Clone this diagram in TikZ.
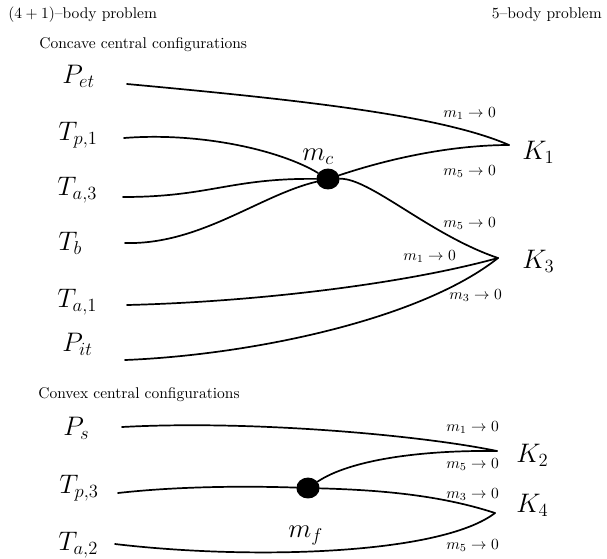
\documentclass[tikz,border=0pt]{standalone}
\usepackage{amsmath}
\usepackage{tikz}
\usetikzlibrary{shapes.geometric}

\begin{document}
\begin{tikzpicture}[
    x=0.645pt,
    y=-0.645pt,
    orbit/.style={black, line width=1.1pt, line cap=round},
    lab/.style={anchor=base west, inner sep=0pt, font=\LARGE},
    lim/.style={anchor=base west, inner sep=0pt, font=\normalsize},
    mass/.style={ellipse, fill=black, minimum width=15pt, minimum height=13.5pt, inner sep=0pt}
  ]
    \useasboundingbox (0,0) rectangle (607,558);
    % headings
    \node[lim] (h41) at (8,18) {$(4+1)$--body problem};
    \node[lim, anchor=base east] (h5) at (602,18) {$5$--body problem};
    \node[lim] (hcc) at (39,48) {Concave central configurations};
    \node[lim] (hcv) at (38,398) {Convex central configurations};
    % concave labels
    \node[lab] (Pet) at (62,83) {$P_{et}$};
    \node[lab] (Tp1) at (58,140) {$T_{p,1}$};
    \node[lab] (Ta3) at (57,195) {$T_{a,3}$};
    \node[lab] (Tb) at (58,250) {$T_b$};
    \node[lab] (Ta1) at (57,307) {$T_{a,1}$};
    \node[lab] (Pit) at (62,351) {$P_{it}$};
    \coordinate (pet) at (127,84);
    \coordinate (tp1) at (124,138);
    \coordinate (ta3) at (123,197);
    \coordinate (tb) at (125,243);
    \coordinate (ta1) at (127,305);
    \coordinate (pit) at (125,360);
    \coordinate (k1) at (509,145);
    \coordinate (k3) at (498,258);
    \node[mass] (mc) at (328,179) {};
    \node[lab] (mclab) at (302,160) {$m_c$};
    \node[lab] (K1) at (522,159) {$K_1$};
    \node[lab] (K3) at (522,268) {$K_3$};
    \draw[orbit] (pet) .. controls (300,100) and (440,115) .. (k1);
    \draw[orbit] (tp1) .. controls (200,132) and (280,150) .. (mc);
    \draw[orbit] (ta3) .. controls (210,197) and (230,178) .. (mc);
    \draw[orbit] (tb) .. controls (200,245) and (260,195) .. (mc);
    \draw[orbit] (mc) .. controls (400,155) and (460,145) .. (k1);
    \draw[orbit] (mc) .. controls (370,178) and (430,235) .. (k3);
    \draw[orbit] (ta1) .. controls (250,302) and (400,285) .. (k3);
    \draw[orbit] (pit) .. controls (250,355) and (420,320) .. (k3);
    \node[lim] (l1) at (443,117) {$m_1\to 0$};
    \node[lim] (l2) at (443,175) {$m_5\to 0$};
    \node[lim] (l3) at (443,227) {$m_5\to 0$};
    \node[lim] (l4) at (403,260) {$m_1\to 0$};
    \node[lim] (l5) at (449,299) {$m_3\to 0$};
    % convex labels
    \node[lab] (Ps) at (63,435) {$P_s$};
    \node[lab] (Tp3) at (59,493) {$T_{p,3}$};
    \node[lab] (Ta2) at (58,550) {$T_{a,2}$};
    \coordinate (ps) at (122,427);
    \coordinate (tp3) at (118,493);
    \coordinate (ta2) at (115,544);
    \coordinate (k2) at (497,451);
    \coordinate (k4) at (495,513);
    \node[mass] (mf) at (308,488) {};
    \node[lab] (mflab) at (288,537) {$m_f$};
    \node[lab] (K2) at (516,462) {$K_2$};
    \node[lab] (K4) at (516,512) {$K_4$};
    \draw[orbit] (ps) .. controls (250,420) and (420,435) .. (k2);
    \draw[orbit] (tp3) .. controls (180,486) and (250,486) .. (mf);
    \draw[orbit] (mf) .. controls (350,460) and (420,450) .. (k2);
    \draw[orbit] (mf) .. controls (380,490) and (440,495) .. (k4);
    \draw[orbit] (ta2) .. controls (250,560) and (440,555) .. (k4);
    \node[lim] (l6) at (446,431) {$m_1\to 0$};
    \node[lim] (l7) at (446,468) {$m_5\to 0$};
    \node[lim] (l8) at (446,498) {$m_3\to 0$};
    \node[lim] (l9) at (446,549) {$m_5\to 0$};
  \end{tikzpicture}
\end{document}
